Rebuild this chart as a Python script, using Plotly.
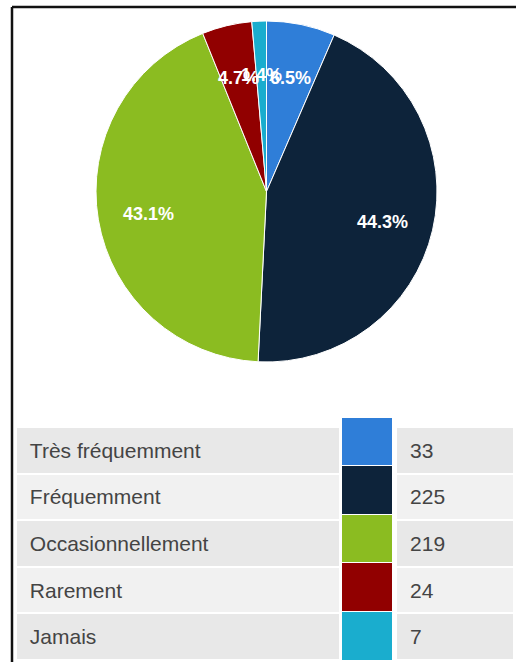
import math
import plotly.graph_objects as go

categories = ["Très fréquemment", "Fréquemment", "Occasionnellement", "Rarement", "Jamais"]
counts = [33, 225, 219, 24, 7]
colors = ["#2f7ed8", "#0d233a", "#8bbc21", "#910000", "#1aadce"]

W, H = 516, 662

def px(x):
    return x / W

def py(y):
    return 1 - y / H

# pie geometry (pixels from top-left)
cx, cy, r = 266.5, 191.5, 170.5

fig = go.Figure()

fig.add_trace(go.Pie(
    labels=categories,
    values=counts,
    marker=dict(colors=colors, line=dict(color="white", width=1)),
    sort=False,
    direction="clockwise",
    rotation=0,
    textinfo="none",
    hoverinfo="label+value+percent",
    showlegend=False,
    domain=dict(x=[px(cx - r), px(cx + r)], y=[py(cy + r), py(cy - r)]),
))

# percentage labels placed inside slices, derived from the data
total = sum(counts)
cum = 0
annotations = []
for v in counts:
    frac = v / total
    mid = (cum + frac / 2) * 2 * math.pi
    cum += frac
    d = 0.70 * r
    lx = cx + d * math.sin(mid)
    ly = cy - d * math.cos(mid) + 3
    annotations.append(dict(
        x=px(lx), y=py(ly), xref="paper", yref="paper",
        xanchor="center", yanchor="middle",
        text=f"<b>{frac*100:.1f}%</b>", showarrow=False,
        font=dict(family="Liberation Sans, Arial", size=18, color="white"),
    ))

# table below
n = len(categories)
row_h = 46.6
tbl_top = 427
label_w, mid_w, val_w = 325, 56, 118
row_fills = ["#e8e8e8" if i % 2 == 0 else "#f1f1f1" for i in range(n)]
hdr_blank = dict(values=["", "", ""], height=1, fill_color="rgba(0,0,0,0)",
                 line=dict(color="rgba(0,0,0,0)", width=0))
tbl_x = [px(16), px(16 + label_w + mid_w + val_w)]

# row backgrounds
fig.add_trace(go.Table(
    domain=dict(x=tbl_x, y=[0, py(tbl_top - 1)]),
    columnwidth=[label_w, mid_w, val_w],
    header=hdr_blank,
    cells=dict(
        values=[[""] * n, [""] * n, [""] * n],
        fill_color=[row_fills, ["white"] * n, row_fills],
        line=dict(color="white", width=2),
        height=row_h,
    ),
))

# colour swatches
fig.add_trace(go.Table(
    domain=dict(x=[px(341), px(392)], y=[0, py(tbl_top - 11)]),
    columnwidth=[1],
    header=dict(values=[""], height=1, fill_color="white", line=dict(color="white", width=0)),
    cells=dict(
        values=[[""] * n],
        fill_color=[colors],
        line=dict(color="white", width=1),
        height=row_h + 2,
    ),
))

# row texts (transparent, vertically centred in the rows)
fig.add_trace(go.Table(
    domain=dict(x=tbl_x, y=[0, py(tbl_top + 6)]),
    columnwidth=[label_w, mid_w, val_w],
    header=hdr_blank,
    cells=dict(
        values=[["\u00a0" + c for c in categories], [""] * n, ["\u00a0" + str(c) for c in counts]],
        fill_color="rgba(0,0,0,0)",
        line=dict(color="rgba(0,0,0,0)", width=0),
        align="left",
        height=row_h,
        font=dict(family="Liberation Sans, Arial", size=21, color="#444444"),
    ),
))

shapes = [
    dict(type="line", xref="paper", yref="paper", x0=px(12), x1=1, y0=py(7), y1=py(7),
         line=dict(color="#111111", width=2.5)),
    dict(type="line", xref="paper", yref="paper", x0=px(12), x1=px(12), y0=py(7), y1=0,
         line=dict(color="#111111", width=2.5)),
]

fig.update_layout(
    width=W, height=H,
    margin=dict(l=0, r=0, t=0, b=0),
    paper_bgcolor="white",
    plot_bgcolor="white",
    annotations=annotations,
    shapes=shapes,
)

fig.write_html(
    "out.html",
    config={"displayModeBar": False},
    post_script="document.body.style.margin='0';document.body.style.overflow='hidden';",
)
